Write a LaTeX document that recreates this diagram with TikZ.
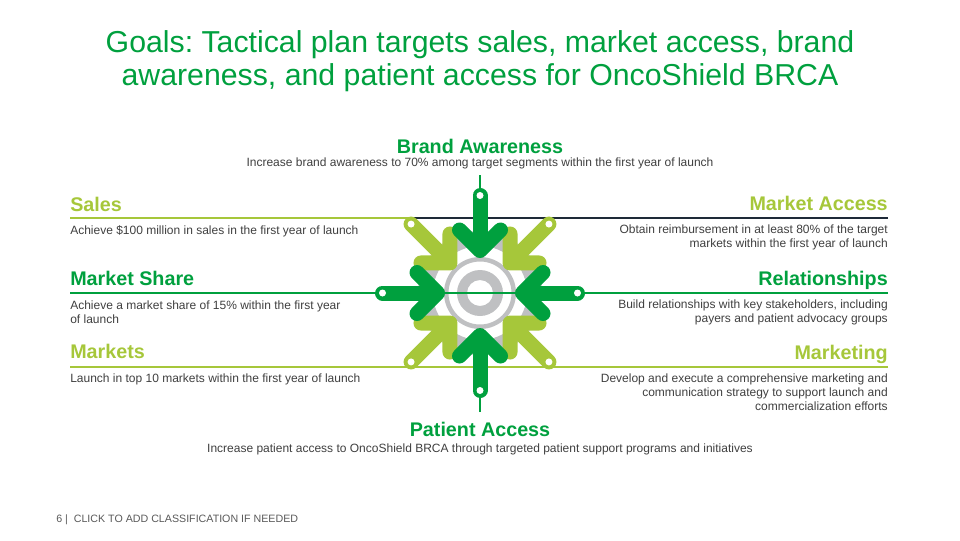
\documentclass[tikz,border=0pt]{standalone}
\usepackage{fontspec}
\setmainfont{Liberation Sans}
\usetikzlibrary{positioning}
\definecolor{goalgreen}{HTML}{00A03E}
\definecolor{leaf}{HTML}{A6C73A}
\definecolor{ringgrey}{HTML}{BFC0C2}
\definecolor{bodytext}{HTML}{3F3F3F}
\definecolor{navyrule}{HTML}{1E2A38}
\definecolor{footgrey}{HTML}{595959}
\frenchspacing
\tikzset{
  title/.style={font=\fontsize{22.7}{24.75}\selectfont, text=goalgreen, align=center, inner sep=0pt},
  head/.style={font=\fontsize{14.8}{17}\selectfont\bfseries, inner sep=0pt},
  desc/.style={font=\fontsize{9}{10.5}\selectfont, text=bodytext, inner sep=0pt},
  rule/.style={line width=0.9pt},
  shaft/.style={line width=11.25pt, line cap=round, line join=round},
  dot/.style={fill=white, draw=none}
}
\begin{document}
\begin{tikzpicture}[x=0.75pt,y=-0.75pt]
  \useasboundingbox (0,0) rectangle (960,540);

  % title (base = last line)
  \node[title, anchor=base] (title) at (480,85) {Goals: Tactical plan targets sales, market access, brand\\awareness, and patient access for OncoShield BRCA};

  % target rings
  \coordinate (hub) at (480,293);
  \fill[ringgrey, even odd rule] (hub) circle (62) (hub) circle (47);
  \fill[ringgrey, even odd rule] (hub) circle (36) (hub) circle (31.5);
  \fill[ringgrey, even odd rule] (hub) circle (23) (hub) circle (13);

  % dot positions of the arrows
  \foreach \ang/\nm in {0/n,45/ne,90/e,135/se,180/s,225/sw,270/w,315/nw}
    \path[shift={(hub)}, rotate=\ang] (0,-97.5) coordinate (d-\nm);

  % rules under the goals
  \coordinate (sales-r) at (70,218);
  \coordinate (share-r) at (70,293);
  \coordinate (mkts-r) at (70,367);
  \coordinate (access-r) at (888,218);
  \coordinate (rel-r) at (888,293);
  \coordinate (mktg-r) at (888,367);
  \coordinate (ba-tick) at (480,175);
  \coordinate (pa-tick) at (480,412);
  \draw[rule, leaf] (sales-r) -- (sales-r -| d-nw);
  \draw[rule, goalgreen] (share-r) -- (share-r -| d-w);
  \draw[rule, leaf] (mkts-r) -- (mkts-r -| d-sw);
  \draw[rule, navyrule] (access-r) -- (access-r -| d-ne);
  \draw[rule, goalgreen] (rel-r) -- (rel-r -| d-e);
  \draw[rule, leaf] (mktg-r) -- (mktg-r -| d-se);
  \draw[rule, goalgreen] (ba-tick) -- (d-n);
  \draw[rule, goalgreen] (pa-tick) -- (d-s);

  % arrows pointing in
  \foreach \ang/\col in {45/leaf,135/leaf,225/leaf,315/leaf,0/goalgreen,90/goalgreen,180/goalgreen,270/goalgreen}{
    \begin{scope}[shift={(hub)}, rotate=\ang]
      \draw[shaft, \col] (0,-97.5) -- (0,-48);
      \draw[shaft, \col] (-20.5,-63) -- (0,-42.5) -- (20.5,-63);
      \fill[dot] (0,-97.5) circle (3.5);
    \end{scope}
  }

  % goals, left side (base of a wrapped text = its last line)
  \node[head, text=leaf, anchor=base west] (sales) at (70,211) {Sales};
  \node[desc, anchor=base west, align=left] (sales-txt) at (70,234) {Achieve \$100 million in sales in the first year of launch};
  \node[head, text=goalgreen, anchor=base west] (share) at (70,285) {Market Share};
  \node[desc, anchor=base west, align=left] (share-txt) at (70,323) {Achieve a market share of 15\% within the first year\\of launch};
  \node[head, text=leaf, anchor=base west] (mkts) at (70,358) {Markets};
  \node[desc, anchor=base west, align=left] (mkts-txt) at (70,382) {Launch in top 10 markets within the first year of launch};

  % goals, right side
  \node[head, text=leaf, anchor=base east] (access) at (888,210) {Market Access};
  \node[desc, anchor=base east, align=right] (access-txt) at (888,247.5) {Obtain reimbursement in at least 80\% of the target\\markets within the first year of launch};
  \node[head, text=goalgreen, anchor=base east] (rel) at (888,285) {Relationships};
  \node[desc, anchor=base east, align=right] (rel-txt) at (888,322.5) {Build relationships with key stakeholders, including\\payers and patient advocacy groups};
  \node[head, text=leaf, anchor=base east] (mktg) at (888,359) {Marketing};
  \node[desc, anchor=base east, align=right] (mktg-txt) at (888,410) {Develop and execute a comprehensive marketing and\\communication strategy to support launch and\\commercialization efforts};

  % goals, top and bottom
  \node[head, text=goalgreen, anchor=base] (brand) at (480,153) {Brand Awareness};
  \node[desc, anchor=base] (brand-txt) at (480,166.5) {Increase brand awareness to 70\% among target segments within the first year of launch};
  \node[head, text=goalgreen, anchor=base] (patient) at (480,436.5) {Patient Access};
  \node[desc, anchor=base] (patient-txt) at (480,452) {Increase patient access to OncoShield BRCA through targeted patient support programs and initiatives};

  % footer
  \node[anchor=base west, inner sep=0pt, text=footgrey, font=\fontsize{8}{9}\selectfont] (foot) at (56,522) {6 |\ \ CLICK TO ADD CLASSIFICATION IF NEEDED};
\end{tikzpicture}
\end{document}
